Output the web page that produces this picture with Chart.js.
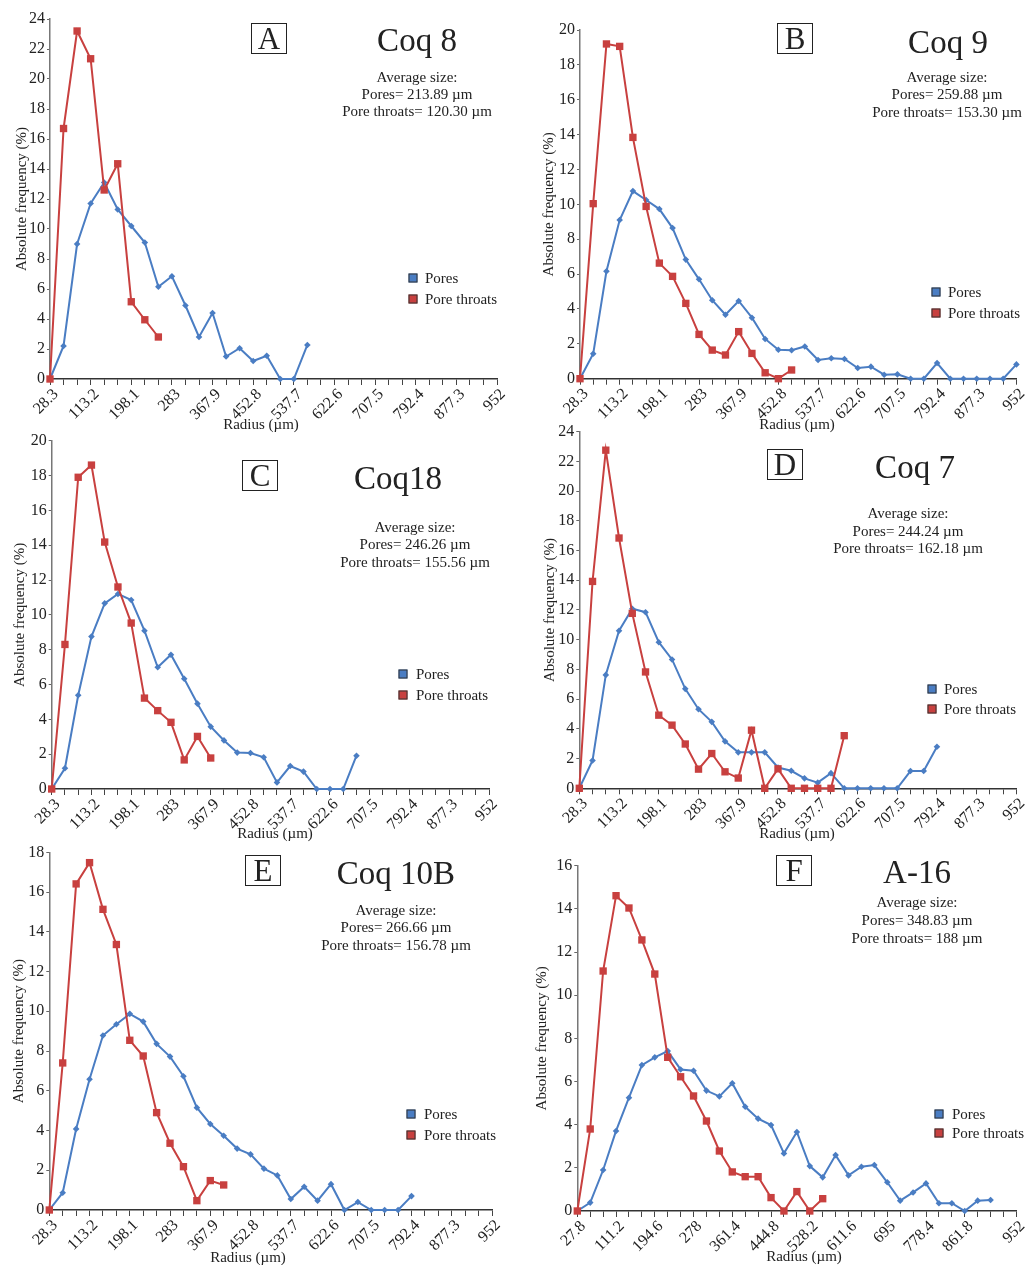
<!DOCTYPE html>
<html>
<head>
<meta charset="utf-8">
<script src="https://cdn.jsdelivr.net/npm/chart.js@4.4.1/dist/chart.umd.min.js"></script>
<style>
  body { margin:0; background:#fff; }
  #page { position:relative; width:1030px; height:1265px; font-family:"Liberation Serif","Times New Roman",serif; color:#222; }
  canvas { position:absolute; }
  .t { position:absolute; white-space:nowrap; line-height:1; transform:translate(-50%,-50%); }
  .box { position:absolute; border:1px solid #222; width:34px; height:29px; font-size:31px; line-height:30px; text-align:center; }
  .leg { position:absolute; font-size:15px; line-height:1; white-space:nowrap; transform:translateY(-50%); }
  .sq { position:absolute; width:7px; height:7px; border:1px solid #333; transform:translate(-50%,-50%); }
</style>
</head>
<body>
<div id="page"></div>
<script>
// radius classes (µm) and the labels shown on the x axis
const radiusCoq = ['28.3','56.6','84.9','113.2','141.5','169.8','198.1','226.4','254.7','283','311.3','339.6','367.9','396.2','424.5','452.8','481.1','509.4','537.7','566','594.3','622.6','650.9','679.2','707.5','735.8','764.1','792.4','820.7','849','877.3','905.6','933.9','952'];
const tickCoq = ['28.3','113.2','198.1','283','367.9','452.8','537.7','622.6','707.5','792.4','877.3','952'];
const radiusA16 = ['27.8','55.6','83.4','111.2','139','166.8','194.6','222.4','250.2','278','305.8','333.6','361.4','389.2','417','444.8','472.6','500.4','528.2','556','583.8','611.6','639.4','667.2','695','722.8','750.6','778.4','806.2','834','861.8','889.6','917.4','945.2','952'];
const tickA16 = ['27.8','111.2','194.6','278','361.4','444.8','528.2','611.6','695','778.4','861.8','952'];

// absolute frequency (%)
const poresCoq8   = [0,2.2,9.0,11.7,13.1,11.3,10.2,9.1,6.15,6.85,4.9,2.8,4.4,1.5,2.05,1.2,1.55,0,0,2.27];
const throatsCoq8 = [0,16.7,23.2,21.35,12.6,14.35,5.15,3.95,2.8];

const poresCoq9   = [0,1.43,6.16,9.1,10.76,10.25,9.73,8.64,6.83,5.7,4.5,3.67,4.46,3.5,2.28,1.66,1.63,1.85,1.07,1.17,1.13,0.61,0.69,0.23,0.25,0,0,0.9,0,0,0,0,0,0.82];
const throatsCoq9 = [0,10.04,19.2,19.06,13.84,9.88,6.63,5.87,4.32,2.54,1.64,1.36,2.7,1.45,0.34,0,0.5];

const poresCoq18   = [0,1.19,5.38,8.75,10.66,11.2,10.85,9.09,6.99,7.71,6.33,4.9,3.58,2.79,2.09,2.07,1.82,0.38,1.32,1.0,0,0,0,1.91];
const throatsCoq18 = [0,8.3,17.9,18.6,14.18,11.6,9.53,5.22,4.5,3.83,1.67,3.02,1.78];

const poresCoq7   = [0,1.87,7.63,10.6,12.08,11.85,9.83,8.67,6.69,5.32,4.47,3.16,2.42,2.42,2.42,1.4,1.18,0.67,0.38,1.02,0,0,0,0,0,1.16,1.16,2.8];
const throatsCoq7 = [0,13.92,22.75,16.84,11.77,7.83,4.92,4.25,2.98,1.29,2.34,1.11,0.69,3.91,0,1.31,0,0,0,0,3.54];

const poresCoq10B   = [0,0.87,4.08,6.58,8.78,9.35,9.87,9.48,8.36,7.72,6.73,5.15,4.33,3.74,3.09,2.8,2.08,1.74,0.55,1.17,0.47,1.3,0,0.4,0,0,0,0.7];
const throatsCoq10B = [0,7.4,16.41,17.48,15.13,13.36,8.54,7.75,4.9,3.36,2.18,0.47,1.48,1.26];

const poresA16   = [0,0.39,1.9,3.71,5.25,6.76,7.12,7.41,6.56,6.5,5.58,5.31,5.92,4.83,4.28,3.98,2.67,3.66,2.08,1.56,2.59,1.65,2.05,2.13,1.33,0.48,0.86,1.28,0.36,0.36,0,0.48,0.51];
const throatsA16 = [0,3.8,11.12,14.61,14.04,12.56,10.98,7.12,6.22,5.33,4.17,2.78,1.81,1.59,1.59,0.62,0,0.9,0,0.57];

const blue = '#4A7DC3';
const red = '#C8403F';
const serif = '"Liberation Serif","Times New Roman",serif';

// layout: canvas box [x,y,w,h], chart area [left,top,right,bottom]
const panels = [
  {letter:'A', name:'Coq 8', pores:poresCoq8, throats:throatsCoq8, cats:radiusCoq, ticks:tickCoq, ymax:24,
   avg:['213.89','120.30'], box:[0,0,515,440], area:[50,19,497,379], yPad:13,
   lb:[251,23], title:[417,40], avgX:417, avgY:[77,94,111], leg:[413,278,299,425], xt:[261,424]},
  {letter:'B', name:'Coq 9', pores:poresCoq9, throats:throatsCoq9, cats:radiusCoq, ticks:tickCoq, ymax:20,
   avg:['259.88','153.30'], box:[515,0,515,440], area:[580,30,1024,378.7], yPad:25,
   lb:[777,23], title:[948,42], avgX:947, avgY:[77,94,112], leg:[936,292,313,948], xt:[797,424]},
  {letter:'C', name:'Coq18', pores:poresCoq18, throats:throatsCoq18, cats:radiusCoq, ticks:tickCoq, ymax:20,
   avg:['246.26','155.56'], box:[0,420,515,430], area:[51.7,440.7,489,789], yPad:11,
   lb:[242,460], title:[398,478], avgX:415, avgY:[527,544,562], leg:[403,674,695,416], xt:[275,833]},
  {letter:'D', name:'Coq 7', pores:poresCoq7, throats:throatsCoq7, cats:radiusCoq, ticks:tickCoq, ymax:24,
   avg:['244.24','162.18'], box:[515,420,515,430], area:[579.3,428.7,1024,788.3], yPad:26,
   lb:[767,449], title:[915,467], avgX:908, avgY:[513,531,548], leg:[932,689,709,944], xt:[797,833]},
  {letter:'E', name:'Coq 10B', pores:poresCoq10B, throats:throatsCoq10B, cats:radiusCoq, ticks:tickCoq, ymax:18,
   avg:['266.66','156.78'], box:[0,840,515,425], area:[49.3,852.3,492,1210], yPad:10,
   lb:[245,855], title:[396,873], avgX:396, avgY:[910,927,945], leg:[411,1114,1135,424], xt:[248,1257]},
  {letter:'F', name:'A-16', pores:poresA16, throats:throatsA16, cats:radiusA16, ticks:tickA16, ymax:16,
   avg:['348.83','188'], box:[515,840,515,425], area:[577.3,865.7,1023,1211], yPad:18,
   lb:[776,855], title:[917,872], avgX:917, avgY:[902,920,938], leg:[939,1114,1133,952], xt:[804,1256]}
];

const page = document.getElementById('page');

function addText(cls, x, y, txt, size) {
  const d = document.createElement('div');
  d.className = cls;
  d.style.left = x + 'px';
  d.style.top = y + 'px';
  if (size) d.style.fontSize = size + 'px';
  d.textContent = txt;
  page.appendChild(d);
  return d;
}

panels.forEach(p => {
  const [x0, y0, w, h] = p.box;
  const [L, T, R, B] = p.area;
  const cv = document.createElement('canvas');
  cv.width = w; cv.height = h;
  cv.style.left = x0 + 'px'; cv.style.top = y0 + 'px';
  page.appendChild(cv);

  new Chart(cv, {
    type: 'line',
    data: {
      labels: p.cats,
      datasets: [
        {label:'Pore throats', data:p.throats, borderColor:red, backgroundColor:red, borderWidth:2,
         pointStyle:'rect', pointRadius:5.2, pointBorderWidth:0, tension:0, clip:false},
        {label:'Pores', data:p.pores, borderColor:blue, backgroundColor:blue, borderWidth:2,
         pointStyle:'rectRot', pointRadius:3.3, pointBorderWidth:0, tension:0, clip:false}
      ]
    },
    options: {
      responsive:false,
      animation:false,
      layout:{padding:{left:0, top:T - y0, right:x0 + w - R, bottom:0}},
      plugins:{legend:{display:false}, tooltip:{enabled:false}},
      scales:{
        x:{
          offset:false,
          grid:{drawOnChartArea:false, tickLength:6, color:'#444', tickColor:'#444'},
          border:{color:'#333', width:1.5},
          ticks:{
            autoSkip:false, maxRotation:45, minRotation:45, padding:0, labelOffset:6,
            color:'#222', font:{family:serif, size:16},
            callback:function(v){ const l = this.getLabelForValue(v); return p.ticks.includes(l) ? l : ''; }
          },
          afterFit: s => { s.height = y0 + h - B; }
        },
        y:{
          min:0, max:p.ymax,
          ticks:{stepSize:2, padding:2, color:'#222', font:{family:serif, size:16}},
          grid:{drawOnChartArea:false, tickLength:3, color:'#666', tickColor:'#666'},
          border:{color:'#777', width:1.5},
          title:{display:true, text:'Absolute frequency (%)', color:'#222', font:{family:serif, size:15}, padding:{top:p.yPad, bottom:0}},
          afterFit: s => { s.width = L - x0; }
        }
      }
    }
  });

  // panel letter, sample name and average sizes
  addText('box', p.lb[0], p.lb[1], p.letter);
  addText('t', p.title[0], p.title[1], p.name, 33);
  addText('t', p.avgX, p.avgY[0], 'Average size:', 15);
  addText('t', p.avgX, p.avgY[1], 'Pores= ' + p.avg[0] + ' µm', 15);
  addText('t', p.avgX, p.avgY[2], 'Pore throats= ' + p.avg[1] + ' µm', 15);

  // legend
  const s1 = addText('sq', p.leg[0], p.leg[1], ''); s1.style.background = blue;
  const s2 = addText('sq', p.leg[0], p.leg[2], ''); s2.style.background = red;
  addText('leg', p.leg[3], p.leg[1], 'Pores');
  addText('leg', p.leg[3], p.leg[2], 'Pore throats');

  // x axis title
  addText('t', p.xt[0], p.xt[1], 'Radius (µm)', 15);
});
</script>
</body>
</html>
